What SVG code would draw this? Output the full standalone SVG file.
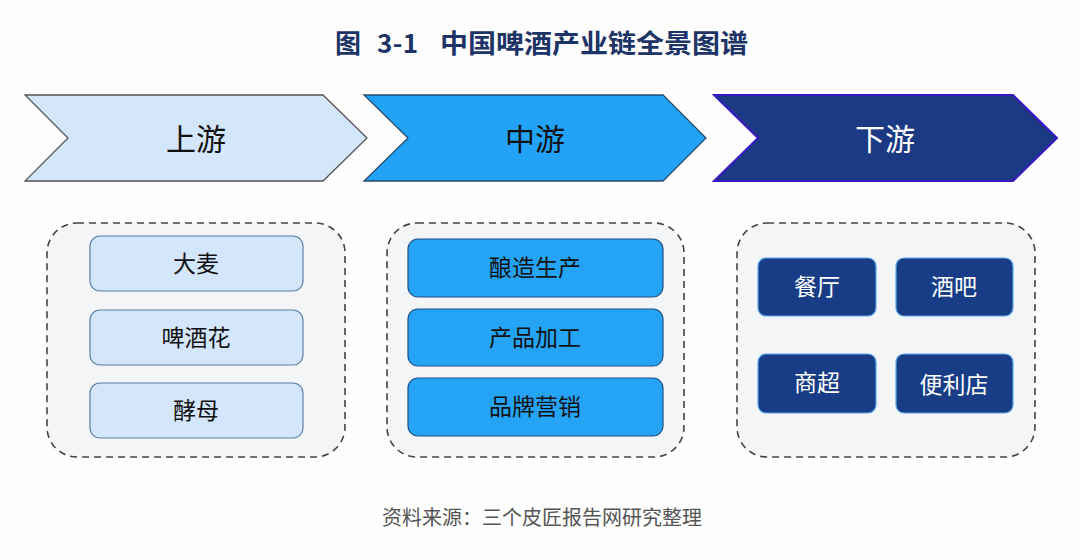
<svg xmlns="http://www.w3.org/2000/svg" width="1080" height="560" viewBox="0 0 1080 560">
<style>
.t{font-family:"Noto Sans CJK SC","Noto Sans",sans-serif;text-anchor:middle;dominant-baseline:central}
.title{font-family:"Noto Sans CJK SC","Noto Sans",sans-serif;font-size:26px;font-weight:bold;fill:#1d3566;dominant-baseline:central}
.chev{font-size:30px}
.item{font-size:23px}
.dash{fill:#f4f5f6;stroke:#444;stroke-width:1.6;stroke-dasharray:7 5}
.up{fill:#d4e6fb;stroke:#5b7fa6;stroke-width:1.2}
.mid{fill:#25a4f6;stroke:#1e4f86;stroke-width:1.2}
.down{fill:#183d86;stroke:#5aa8ea;stroke-width:1.2}
</style>
<rect width="1080" height="560" fill="#fefefe"/>
<g id="title">
<text class="title" x="335" y="41" textLength="27">图</text>
<text class="title" x="377" y="41" textLength="41">3-1</text>
<text class="title" x="440" y="41" textLength="308" lengthAdjust="spacingAndGlyphs">中国啤酒产业链全景图谱</text>
</g>

<g id="stage-up">
<polygon points="25,95 323,95 367,138 323,181 25,181 68,138" fill="#d4e6fb" stroke="#555" stroke-width="1.3"/>
<text class="t chev" x="196" y="137" fill="#111">上游</text>
</g>
<g id="stage-mid">
<polygon points="364,95 663,95 706,138 663,181 364,181 408,138" fill="#22a3f7" stroke="#2a4a6a" stroke-width="1.3"/>
<text class="t chev" x="535" y="137" fill="#111">中游</text>
</g>
<g id="stage-down">
<polygon points="714,95 1013,95 1057,138 1013,181 714,181 758,138" fill="#1c3a84" stroke="#3a18c8" stroke-width="2"/>
<text class="t chev" x="885" y="137" fill="#fff">下游</text>
</g>

<g id="group-up">
<rect class="dash" x="47" y="223" width="298" height="234" rx="30"/>
<g id="n-damai"><rect class="up" x="90" y="236" width="213" height="55" rx="10"/><text class="t item" x="196" y="262" fill="#111">大麦</text></g>
<g id="n-hops"><rect class="up" x="90" y="310" width="213" height="55" rx="10"/><text class="t item" x="196" y="336" fill="#111">啤酒花</text></g>
<g id="n-yeast"><rect class="up" x="90" y="383" width="213" height="55" rx="10"/><text class="t item" x="196" y="409" fill="#111">酵母</text></g>
</g>

<g id="group-mid">
<rect class="dash" x="387" y="223" width="297" height="234" rx="30"/>
<g id="n-brew"><rect class="mid" x="408" y="239" width="255" height="58" rx="10"/><text class="t item" x="535" y="266" fill="#111">酿造生产</text></g>
<g id="n-process"><rect class="mid" x="408" y="309" width="255" height="57" rx="10"/><text class="t item" x="535" y="336" fill="#111">产品加工</text></g>
<g id="n-brand"><rect class="mid" x="408" y="378" width="255" height="58" rx="10"/><text class="t item" x="535" y="405" fill="#111">品牌营销</text></g>
</g>

<g id="group-down">
<rect class="dash" x="737" y="223" width="298" height="234" rx="30"/>
<g id="n-restaurant"><rect class="down" x="758" y="258" width="118" height="58" rx="8"/><text class="t item" x="817" y="285" fill="#fff">餐厅</text></g>
<g id="n-bar"><rect class="down" x="896" y="258" width="117" height="58" rx="8"/><text class="t item" x="954" y="285" fill="#fff">酒吧</text></g>
<g id="n-super"><rect class="down" x="758" y="354" width="118" height="59" rx="8"/><text class="t item" x="817" y="381" fill="#fff">商超</text></g>
<g id="n-conv"><rect class="down" x="896" y="354" width="117" height="59" rx="8"/><text class="t item" x="954" y="383" fill="#fff">便利店</text></g>
</g>

<g id="connectors"></g>

<text class="t" x="542" y="516" font-size="20" fill="#555">资料来源：三个皮匠报告网研究整理</text>
</svg>
